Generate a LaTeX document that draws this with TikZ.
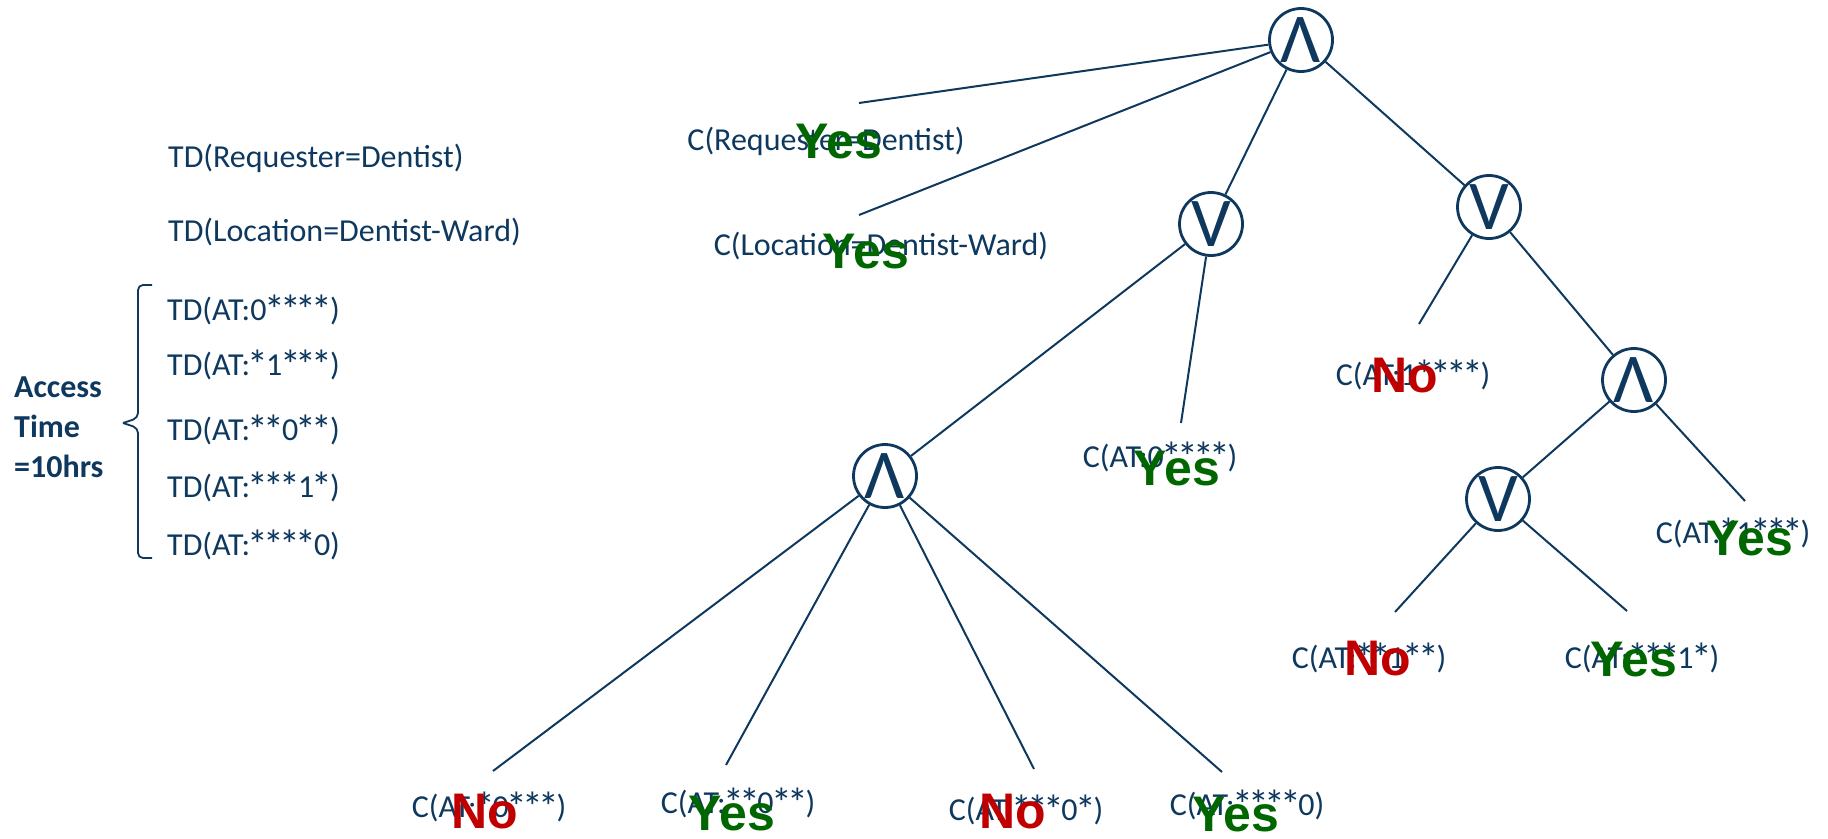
\documentclass[tikz,border=0pt]{standalone}
\usepackage{fontspec}
\setmainfont{Carlito}
\newfontfamily\arialfont{Liberation Sans}
\definecolor{navy}{RGB}{14,56,94}
\definecolor{yesgreen}{RGB}{0,102,0}
\definecolor{nored}{RGB}{192,0,0}
\newcommand\astx{\makebox[0.498em]{\raisebox{-0.1em}{\scalebox{1.3}{*}}}}
\tikzset{
  op/.style={circle, draw=navy, line width=2.8pt, minimum size=63pt, inner sep=0pt,
    font=\fontsize{70}{70}\selectfont, text=navy},
  edge/.style={draw=navy, line width=2pt},
  lbl/.style={text=navy, font=\fontsize{32}{38}\selectfont, inner sep=0pt},
  ylbl/.style={text=yesgreen, font=\arialfont\bfseries\fontsize{50}{50}\selectfont, inner sep=0pt},
  nlbl/.style={text=nored, font=\arialfont\bfseries\fontsize{50}{50}\selectfont, inner sep=0pt},
}
\begin{document}
\begin{tikzpicture}[x=1pt,y=-1pt]
\useasboundingbox (0,0) rectangle (1828,838);
% operator nodes
\node[op] (A1) at (1301,40) {Λ};
\node[op] (O1) at (1211,224) {V};
\node[op] (O2) at (1489,207) {V};
\node[op] (A2) at (1634,380) {Λ};
\node[op] (O3) at (1498,499) {V};
\node[op] (A3) at (885,476) {Λ};
% free ends
\coordinate (e1) at (859,103);
\coordinate (e2) at (859,215);
\coordinate (e3) at (1181,423);
\coordinate (e4) at (1419,324);
\coordinate (e5) at (1745,501);
\coordinate (e6) at (1395,612);
\coordinate (e7) at (1627,611);
\coordinate (e8) at (493,771);
\coordinate (e9) at (726,765);
\coordinate (e10) at (1034,769);
\coordinate (e11) at (1222,772);
% edges
\draw[edge] (A1) -- (e1);
\draw[edge] (A1) -- (e2);
\draw[edge] (A1) -- (O1);
\draw[edge] (A1) -- (O2);
\draw[edge] (O1) -- (A3);
\draw[edge] (O1) -- (e3);
\draw[edge] (O2) -- (e4);
\draw[edge] (O2) -- (A2);
\draw[edge] (A2) -- (O3);
\draw[edge] (A2) -- (e5);
\draw[edge] (O3) -- (e6);
\draw[edge] (O3) -- (e7);
\draw[edge] (A3) -- (e8);
\draw[edge] (A3) -- (e9);
\draw[edge] (A3) -- (e10);
\draw[edge] (A3) -- (e11);
% condition labels
\node[lbl] (c1) at (826,141) {C(Requester=Dentist)};
\node[lbl] (c2) at (881,246) {C(Location=Dentist-Ward)};
\node[lbl] (c3) at (1413,375) {C(AT:1\astx\astx\astx\astx)};
\node[lbl] (c4) at (1160,457) {C(AT:0\astx\astx\astx\astx)};
\node[lbl] (c5) at (1733,533) {C(AT:\astx1\astx\astx\astx)};
\node[lbl] (c6) at (1369,658) {C(AT:\astx\astx1\astx\astx)};
\node[lbl] (c7) at (1642,658) {C(AT:\astx\astx\astx1\astx)};
\node[lbl] (c8) at (489,807) {C(AT:\astx0\astx\astx\astx)};
\node[lbl] (c9) at (738,803) {C(AT:\astx\astx0\astx\astx)};
\node[lbl] (c10) at (1026,810) {C(AT:\astx\astx\astx0\astx)};
\node[lbl] (c11) at (1247,805) {C(AT:\astx\astx\astx\astx0)};
% verdicts
\node[ylbl] (v1) at (839,142) {Yes};
\node[ylbl] (v2) at (866,252) {Yes};
\node[nlbl] (v3) at (1405,376) {No};
\node[ylbl] (v4) at (1177,469) {Yes};
\node[ylbl] (v5) at (1750,539) {Yes};
\node[nlbl] (v6) at (1378,659) {No};
\node[ylbl] (v7) at (1634,660) {Yes};
\node[nlbl] (v8) at (485,812) {No};
\node[ylbl] (v9) at (732,814) {Yes};
\node[nlbl] (v10) at (1013,812) {No};
\node[ylbl] (v11) at (1236,815) {Yes};
% left side
\node[lbl, anchor=west] (t1) at (168,158) {TD(Requester=Dentist)};
\node[lbl, anchor=west] (t2) at (168,232) {TD(Location=Dentist-Ward)};
\node[lbl, anchor=west] (t3) at (167,310) {TD(AT:0\astx\astx\astx\astx)};
\node[lbl, anchor=west] (t4) at (167,365) {TD(AT:\astx1\astx\astx\astx)};
\node[lbl, anchor=west] (t5) at (167,430) {TD(AT:\astx\astx0\astx\astx)};
\node[lbl, anchor=west] (t6) at (167,487) {TD(AT:\astx\astx\astx1\astx)};
\node[lbl, anchor=west] (t7) at (167,545) {TD(AT:\astx\astx\astx\astx0)};
\node[lbl, anchor=west, align=left, font=\bfseries\fontsize{32}{40}\selectfont] (at) at (14,427) {Access\\Time\\=10hrs};
\draw[edge, line width=1.8pt, rounded corners=5pt] (152,285) -- (138,285) -- (138,418) -- (123,423);
\draw[edge, line width=1.8pt, rounded corners=5pt] (123,423) -- (138,428) -- (138,558) -- (152,558);
\end{tikzpicture}
\end{document}
